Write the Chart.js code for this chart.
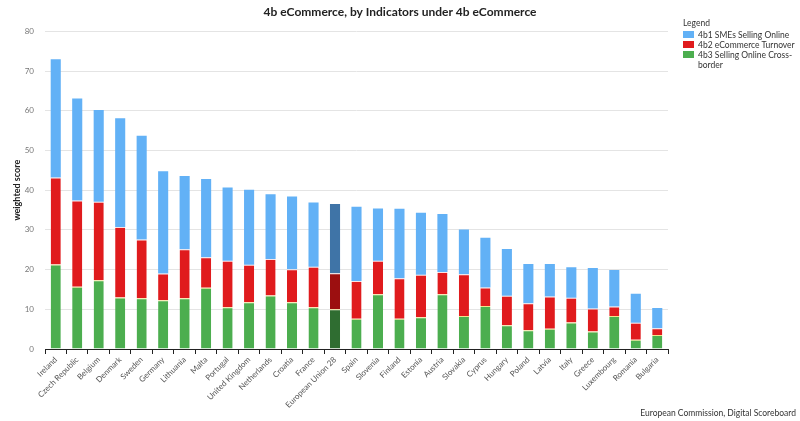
<!DOCTYPE html>
<html>
<head>
<meta charset="utf-8">
<script src="https://cdn.jsdelivr.net/npm/chart.js@4"></script>
<style>
    body { margin: 0; background: #fff; font-family: Lato, "Noto Sans", sans-serif; }
    #wrap { position: relative; width: 800px; height: 421px; }
    #legend { position: absolute; left: 683px; top: 18px; font-size: 8.5px; color: #333; line-height: 10px; }
    #legend .head { margin-bottom: 2px; }
    #legend .item { display: flex; align-items: flex-start; }
    #legend .swatch { width: 11px; height: 7px; margin: 1px 4px 0 0; flex: none; }
    #legend .text { width: 106px; }
    #source { position: absolute; right: 4px; top: 408px; font-size: 8.5px; color: #333; }
</style>
</head>
<body>
<div id="wrap">
    <canvas id="chart" width="800" height="421"></canvas>
    <div id="legend"></div>
    <div id="source">European Commission, Digital Scoreboard</div>
</div>
<script>
const countries = ['Ireland', 'Czech Republic', 'Belgium', 'Denmark', 'Sweden', 'Germany', 'Lithuania', 'Malta',
    'Portugal', 'United Kingdom', 'Netherlands', 'Croatia', 'France', 'European Union 28', 'Spain', 'Slovenia',
    'Finland', 'Estonia', 'Austria', 'Slovakia', 'Cyprus', 'Hungary', 'Poland', 'Latvia', 'Italy', 'Greece',
    'Luxembourg', 'Romania', 'Bulgaria'];

// 4b1 SMEs Selling Online
const smesSellingOnline = [29.8, 25.7, 23.1, 27.4, 26.1, 25.8, 18.5, 19.7, 18.5, 18.9, 16.3, 18.3, 16.2, 17.4, 18.7,
    13.2, 17.5, 15.6, 14.6, 11.3, 12.5, 11.8, 9.9, 8.2, 7.7, 10.2, 9.2, 7.3, 5.1];
// 4b2 eCommerce Turnover
const ecommerceTurnover = [21.9, 21.7, 19.8, 17.7, 14.8, 6.7, 12.3, 7.7, 11.7, 9.4, 9.2, 8.3, 10.2, 9.1, 9.5,
    8.4, 10.2, 10.7, 5.6, 10.5, 4.7, 7.4, 6.8, 8.1, 6.2, 5.8, 2.4, 4.3, 1.7];
// 4b3 Selling Online Cross-border
const sellingCrossBorder = [21.3, 15.7, 17.3, 13.0, 12.8, 12.3, 12.8, 15.4, 10.5, 11.8, 13.5, 11.8, 10.5, 10.0, 7.6,
    13.8, 7.6, 8.0, 13.8, 8.3, 10.8, 6.0, 4.7, 5.1, 6.7, 4.4, 8.3, 2.3, 3.5];

const seriesNames = ['4b1 SMEs Selling Online', '4b2 eCommerce Turnover', '4b3 Selling Online Cross-border'];
const yMin = 0;
const yMax = 80;
const yStep = 10;

const highlight = 'European Union 28';
const colors = {
    blue: ['#62b1f6', '#3f74a7'],
    red: ['#e01b1d', '#9c0f10'],
    green: ['#4cae4f', '#2f6d31']
};

function barColors(pair) {
    return countries.map(c => c === highlight ? pair[1] : pair[0]);
}

const ctx = document.getElementById('chart').getContext('2d');
const chart = new Chart(ctx, {
    type: 'bar',
    data: {
        labels: countries,
        datasets: [{
            label: seriesNames[2],
            data: sellingCrossBorder,
            backgroundColor: barColors(colors.green),
            borderColor: '#f4e48a',
            borderWidth: { top: 1, left: 0, right: 0, bottom: 0 },
            borderSkipped: false
        }, {
            label: seriesNames[1],
            data: ecommerceTurnover,
            backgroundColor: barColors(colors.red),
            borderColor: '#fbe3e3',
            borderWidth: { top: 1, left: 0, right: 0, bottom: 0 },
            borderSkipped: false
        }, {
            label: seriesNames[0],
            data: smesSellingOnline,
            backgroundColor: barColors(colors.blue),
            borderWidth: 0
        }]
    },
    options: {
        responsive: false,
        animation: false,
        layout: {
            padding: 0
        },
        datasets: {
            bar: { categoryPercentage: 1, barPercentage: 0.47 }
        },
        plugins: {
            legend: { display: false },
            tooltip: { enabled: false },
            title: {
                display: true,
                text: '4b eCommerce, by Indicators under 4b eCommerce',
                color: '#222',
                font: { family: 'Lato', size: 12, weight: 'bold' },
                padding: { top: 5, bottom: 12 }
            }
        },
        scales: {
            x: {
                stacked: true,
                afterFit: function(scale) { scale.height = 72; },
                border: { display: true, color: '#222', width: 1 },
                grid: {
                    offset: true,
                    drawOnChartArea: false,
                    drawTicks: true,
                    tickLength: 5,
                    color: '#222'
                },
                ticks: {
                    autoSkip: false,
                    maxRotation: 45,
                    minRotation: 45,
                    padding: 1,
                    color: '#555',
                    font: { family: 'Lato', size: 8 }
                }
            },
            y: {
                stacked: true,
                min: yMin,
                max: yMax,
                afterFit: function(scale) { scale.width = 45; },
                border: { display: false },
                grid: { color: '#e4e4e4', drawTicks: false },
                ticks: {
                    stepSize: yStep,
                    padding: 11,
                    color: '#777',
                    font: { family: 'Lato', size: 8 }
                },
                title: {
                    display: true,
                    text: 'weighted score',
                    color: '#222',
                    padding: { top: 12, bottom: 0 },
                    font: { family: 'Lato', size: 9, weight: 'bold' }
                }
            },
            // empty axis on the right, keeps room for the legend column
            spacer: {
                type: 'linear',
                position: 'right',
                min: yMin,
                max: yMax,
                afterFit: function(scale) { scale.width = 132; },
                border: { display: false },
                grid: { display: false },
                ticks: { display: false }
            }
        }
    }
});

// Legend drawn as HTML so the last entry can wrap like the original
const legendEl = document.getElementById('legend');
let legendHtml = '<div class="head">Legend</div>';
[[seriesNames[0], colors.blue[0]], [seriesNames[1], colors.red[0]], [seriesNames[2], colors.green[0]]].forEach(item => {
    legendHtml += `<div class="item"><span class="swatch" style="background:${item[1]}"></span><span class="text">${item[0]}</span></div>`;
});
legendEl.innerHTML = legendHtml;
</script>
</body>
</html>
